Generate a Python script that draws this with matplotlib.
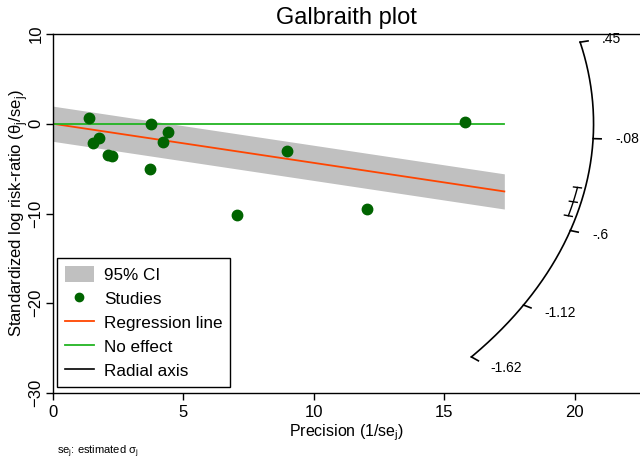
import numpy as np
import matplotlib
matplotlib.use('Agg')
import matplotlib.pyplot as plt
from matplotlib.patches import Patch
from matplotlib.lines import Line2D

plt.rcParams['font.family'] = ['Liberation Sans', 'DejaVu Sans']
plt.rcParams['mathtext.fontset'] = 'custom'
plt.rcParams['mathtext.rm'] = 'Liberation Sans'

# studies: precision (1/se) and standardized log risk-ratio (theta/se)
precision = [1.75, 2.27, 1.55, 7.07, 4.42, 12.04, 2.12, 15.81, 4.21, 3.70, 8.98, 1.37, 3.74]
z_score = [-1.56, -3.59, -2.09, -10.19, -0.96, -9.46, -3.43, 0.19, -1.98, -5.08, -3.05, 0.61, -0.07]

theta_hat = -0.436          # pooled log risk-ratio (slope)
theta_ci = [-0.519, -0.353]
line_end = 17.3
radial_ticks = [0.45, -0.08, -0.6, -1.12, -1.62]
radial_labels = ['.45', '-.08', '-.6', '-1.12', '-1.62']

# colours
band_col = '#c0c0c0'
pt_col = '#006400'
reg_col = '#ff4500'
null_col = '#22b422'

fig = plt.figure(figsize=(6.4, 4.59), dpi=100)
ax = fig.add_axes([53/640, 66/459, 587/640, 359/459])
ax.set_xlim(0, 22.5)
ax.set_ylim(-30, 10)

# pixels per data unit, used to draw ticks on the radial arc
sx = 587 / 22.5
sy = 359 / 40

xs = np.array([0, line_end])
ax.fill_between(xs, theta_hat * xs - 1.96, theta_hat * xs + 1.96, color=band_col, lw=0, zorder=1)
ax.plot(xs, theta_hat * xs, color=reg_col, lw=1.3, zorder=2)
ax.plot(xs, [0, 0], color=null_col, lw=1.3, zorder=2)
ax.plot(precision, z_score, 'o', color=pt_col, ms=7.5, zorder=3)

# radial axis (arc)
R, k = 20.72, 0.505
def arc_point(th, r=R):
    t = np.arctan(k * th)
    return r * np.cos(t), r / k * np.sin(t)

def radial_dir(x, y):
    d = np.array([x * sx, y * sy])
    return d / np.hypot(*d)

th = np.linspace(radial_ticks[0], radial_ticks[-1], 300)
ax.plot(*arc_point(th), color='black', lw=1.2, zorder=4)

for val, lab in zip(radial_ticks, radial_labels):
    x0, y0 = arc_point(val)
    d = radial_dir(x0, y0)
    ax.plot([x0, x0 + 8 * d[0] / sx], [y0, y0 + 8 * d[1] / sy], color='black', lw=1.2)
    ax.annotate(lab, (x0, y0), xytext=(22 * d[0] * 0.72, 22 * d[1] * 0.72),
                textcoords='offset points', ha='left', va='center', fontsize=10)

# CI of pooled estimate inside the arc
th_ci = np.linspace(theta_ci[0], theta_ci[1], 50)
ax.plot(*arc_point(th_ci, R - 0.3), color='black', lw=1.0)
for val in [theta_ci[0], theta_hat, theta_ci[1]]:
    x0, y0 = arc_point(val, R - 0.3)
    d = radial_dir(x0, y0)
    ax.plot([x0 - 4 * d[0] / sx, x0 + 4 * d[0] / sx],
            [y0 - 4 * d[1] / sy, y0 + 4 * d[1] / sy], color='black', lw=1.0)

ax.set_xticks([0, 5, 10, 15, 20])
ax.set_yticks([10, 0, -10, -20, -30])
ax.tick_params(labelsize=12, length=5, width=1)
ax.tick_params(axis='y', labelrotation=90, pad=2)
for t in ax.get_yticklabels():
    t.set_va('center')
ax.spines['right'].set_visible(False)
for s in ['left', 'bottom', 'top']:
    ax.spines[s].set_linewidth(1)

ax.set_xlabel('Precision (1/se$_\\mathregular{j}$)', fontsize=11.5, labelpad=2)
ax.set_ylabel('Standardized log risk-ratio (θ$_\\mathregular{j}$/se$_\\mathregular{j}$)',
              fontsize=12, labelpad=-1)
ax.set_title('Galbraith plot', fontsize=17, pad=7)

handles = [Patch(facecolor=band_col, edgecolor='none'),
           Line2D([], [], marker='o', ls='', color=pt_col, ms=6),
           Line2D([], [], color=reg_col, lw=1.3),
           Line2D([], [], color=null_col, lw=1.3),
           Line2D([], [], color='black', lw=1.2)]
labels = ['95% CI', 'Studies', 'Regression line', 'No effect', 'Radial axis']
leg = ax.legend(handles, labels, loc='lower left', bbox_to_anchor=(0.0068, 0.0167),
                borderaxespad=0, fontsize=12.3, fancybox=False, edgecolor='black',
                framealpha=1, handlelength=1.7, handleheight=1.08,
                handletextpad=0.6, labelspacing=0.42, borderpad=0.45)
leg.get_frame().set_linewidth(1)

fig.text(57/640, 1 - 452/459, 'se$_\\mathregular{j}$: estimated σ$_\\mathregular{j}$',
         fontsize=8, va='center')

fig.savefig('out.png', dpi=100)
